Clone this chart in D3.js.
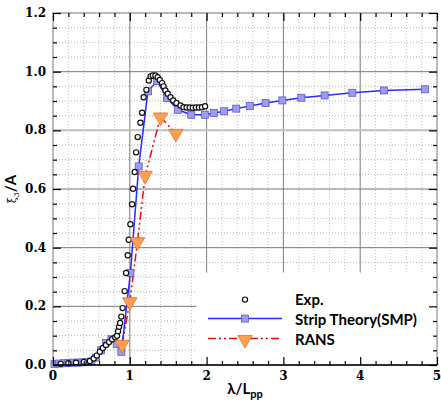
<!DOCTYPE html>
<html>
<head>
<meta charset="utf-8">
<script src="https://cdn.jsdelivr.net/npm/d3@7"></script>
<style>
  body { margin: 0; background: #fff; }
  .tick-label { font-family: "DejaVu Serif", serif; font-weight: bold; font-size: 12px; }
  .legend-text { font-family: Lato, "Open Sans", sans-serif; font-weight: bold; font-size: 15px; }
</style>
</head>
<body>
<div id="chart"></div>
<script>
// data
var expLambda = [0.10, 0.20, 0.30, 0.40, 0.48, 0.53, 0.57, 0.61, 0.65, 0.69, 0.73, 0.77, 0.81, 0.834, 0.847, 0.86, 0.874, 0.89, 0.907, 0.933, 0.952, 0.973, 0.986, 1.008, 1.03, 1.043, 1.064, 1.082, 1.103, 1.138, 1.16, 1.18, 1.216, 1.247, 1.27, 1.30, 1.334, 1.364, 1.39, 1.42, 1.44, 1.464, 1.494, 1.53, 1.565, 1.607, 1.66, 1.70, 1.74, 1.78, 1.82, 1.86, 1.90, 1.94, 1.98];
var expValue  = [0.004, 0.006, 0.008, 0.010, 0.014, 0.022, 0.032, 0.045, 0.058, 0.068, 0.078, 0.088, 0.095, 0.100, 0.115, 0.130, 0.143, 0.165, 0.194, 0.252, 0.314, 0.374, 0.427, 0.480, 0.548, 0.601, 0.658, 0.725, 0.777, 0.826, 0.860, 0.913, 0.938, 0.970, 0.984, 0.987, 0.987, 0.981, 0.972, 0.961, 0.950, 0.936, 0.925, 0.913, 0.902, 0.893, 0.885, 0.879, 0.878, 0.878, 0.877, 0.878, 0.878, 0.879, 0.882];

var stripLambda = [0.02, 0.08, 0.14, 0.20, 0.26, 0.32, 0.38, 0.44, 0.50, 0.56, 0.625, 0.69, 0.76, 0.83, 0.89, 1.008, 1.116, 1.236, 1.356, 1.486, 1.625, 1.80, 1.977, 2.094, 2.228, 2.386, 2.563, 2.768, 2.986, 3.233, 3.537, 3.898, 4.31, 4.845];
var stripValue  = [0.004, 0.005, 0.006, 0.007, 0.008, 0.008, 0.009, 0.010, 0.012, 0.025, 0.050, 0.075, 0.088, 0.072, 0.045, 0.314, 0.677, 0.933, 0.968, 0.910, 0.870, 0.853, 0.853, 0.859, 0.865, 0.874, 0.883, 0.893, 0.902, 0.911, 0.919, 0.928, 0.936, 0.940];

var ransLambda = [0.90, 1.00, 1.10, 1.20, 1.40, 1.60];
var ransValue  = [0.070, 0.215, 0.420, 0.646, 0.845, 0.789];

var xTicks = [0, 1, 2, 3, 4, 5];
var yTicks = [0.0, 0.2, 0.4, 0.6, 0.8, 1.0, 1.2];
var legendNames = ["Exp.", "Strip Theory(SMP)", "RANS"];

// set the dimensions and margins of the graph
var margin = {top: 13, right: 4, bottom: 40, left: 53},
    width = 441 - margin.left - margin.right,
    height = 405 - margin.top - margin.bottom;

var svG = d3.select("#chart")
  .append("svg")
    .attr("width", 441)
    .attr("height", 405)
  .append("g")
    .attr("transform", "translate(" + margin.left + "," + margin.top + ")");

var x = d3.scaleLinear().domain([0, 5]).range([0, width]);
var y = d3.scaleLinear().domain([0, 1.2]).range([height, 0]);

var expData = expLambda.map(function(l, i){ return {x: l, y: expValue[i]}; });
var stripData = stripLambda.map(function(l, i){ return {x: l, y: stripValue[i]}; });
var ransData = ransLambda.map(function(l, i){ return {x: l, y: ransValue[i]}; });

// minor dotted grid
var xMinor = d3.range(0, 5.0001, 0.2);
var yMinor = d3.range(0, 1.2001, 0.05);
svG.append("g").selectAll("line")
  .data(xMinor)
  .enter().append("line")
    .attr("x1", d => x(d)).attr("x2", d => x(d))
    .attr("y1", 0).attr("y2", height)
    .attr("stroke", "#c4c4c4")
    .attr("stroke-dasharray", "1,2");
svG.append("g").selectAll("line")
  .data(yMinor)
  .enter().append("line")
    .attr("y1", d => y(d)).attr("y2", d => y(d))
    .attr("x1", 0).attr("x2", width)
    .attr("stroke", "#b4b4b4")
    .attr("stroke-dasharray", "1,2");

// major grid
svG.append("g").selectAll("line")
  .data(xTicks.slice(1, -1))
  .enter().append("line")
    .attr("x1", d => x(d)).attr("x2", d => x(d))
    .attr("y1", 0).attr("y2", height)
    .attr("stroke", "#808080");
svG.append("g").selectAll("line")
  .data(yTicks.slice(1, -1))
  .enter().append("line")
    .attr("y1", d => y(d)).attr("y2", d => y(d))
    .attr("x1", 0).attr("x2", width)
    .attr("stroke", d => d === 0.8 ? "#c0c0c0" : "#808080")
    .attr("stroke-width", d => d === 0.8 ? 2 : 1);

// lines
var line = d3.line().x(d => x(d.x)).y(d => y(d.y));

svG.append("path")
  .datum(ransData)
  .attr("d", line)
  .attr("fill", "none")
  .attr("stroke", "#e01010")
  .attr("stroke-width", 1.5)
  .attr("stroke-dasharray", "8,3,2,3,2,3");

svG.append("path")
  .datum(stripData)
  .attr("d", line)
  .attr("fill", "none")
  .attr("stroke", "#2a2aff")
  .attr("stroke-width", 1.5);

// markers
svG.selectAll(".sq")
  .data(stripData)
  .enter().append("rect")
    .attr("class", "sq")
    .attr("x", d => x(d.x) - 3.5)
    .attr("y", d => y(d.y) - 3.5)
    .attr("width", 7).attr("height", 7)
    .attr("fill", "#9c9cf0")
    .attr("stroke", "#5a5ad0")
    .attr("stroke-width", 0.8);

svG.selectAll(".dot")
  .data(expData)
  .enter().append("circle")
    .attr("class", "dot")
    .attr("cx", d => x(d.x))
    .attr("cy", d => y(d.y))
    .attr("r", 2.6)
    .attr("fill", "#fff")
    .attr("stroke", "#111")
    .attr("stroke-width", 1.2);

var tri = d3.symbol().type(d3.symbolTriangle).size(90);
svG.selectAll(".tri")
  .data(ransData)
  .enter().append("path")
    .attr("class", "tri")
    .attr("d", tri)
    .attr("transform", d => "translate(" + x(d.x) + "," + y(d.y) + ") rotate(180)")
    .attr("fill", "#ffa050")
    .attr("stroke", "#e07020")
    .attr("stroke-width", 0.8);

// legend
var lg = svG.append("g").attr("transform", "translate(" + (x(1.87)) + "," + y(0.315) + ")");
lg.append("rect")
  .attr("x", 0).attr("y", 0)
  .attr("width", width - x(1.87)).attr("height", height - y(0.315))
  .attr("fill", "#fff");
var sx = x(2.5) - x(1.87);
lg.append("circle").attr("cx", sx).attr("cy", 27).attr("r", 2.6)
  .attr("fill", "#fff").attr("stroke", "#111").attr("stroke-width", 1.2);
lg.append("line").attr("x1", sx - 37).attr("x2", sx + 37).attr("y1", 46).attr("y2", 46)
  .attr("stroke", "#2a2aff").attr("stroke-width", 1.5);
lg.append("rect").attr("x", sx - 3.5).attr("y", 42.5).attr("width", 7).attr("height", 7)
  .attr("fill", "#9c9cf0").attr("stroke", "#5a5ad0").attr("stroke-width", 0.8);
lg.append("line").attr("x1", sx - 37).attr("x2", sx + 37).attr("y1", 66).attr("y2", 66)
  .attr("stroke", "#e01010").attr("stroke-width", 1.5).attr("stroke-dasharray", "8,3,2,3,2,3");
lg.append("path").attr("d", tri)
  .attr("transform", "translate(" + sx + ",67) rotate(180)")
  .attr("fill", "#ffa050").attr("stroke", "#e07020").attr("stroke-width", 0.8);
lg.selectAll(".legend-text")
  .data(legendNames)
  .enter().append("text")
    .attr("class", "legend-text")
    .attr("x", sx + 50)
    .attr("y", (d, i) => 32 + i * 20)
    .text(d => d);

// frame
svG.append("rect")
  .attr("width", width).attr("height", height)
  .attr("fill", "none").attr("stroke", "#808080");
svG.append("line").attr("x1", 0).attr("x2", width).attr("y1", height).attr("y2", height)
  .attr("stroke", "#000").attr("stroke-width", 1.5);

// ticks on all four sides (pointing inward)
var xMinorTicks = xMinor.filter(d => Math.abs(d - Math.round(d)) > 1e-6);
var yMinorTicks = yMinor.filter(d => Math.abs(d * 5 - Math.round(d * 5)) > 1e-6);

svG.append("g").attr("transform", "translate(0," + height + ")")
  .call(d3.axisBottom(x).tickValues(xTicks).tickSize(-8).tickFormat(""))
  .call(g => g.select(".domain").remove());
svG.append("g").attr("transform", "translate(0," + height + ")")
  .call(d3.axisBottom(x).tickValues(xMinorTicks).tickSize(-4).tickFormat(""))
  .call(g => g.select(".domain").remove());
svG.append("g")
  .call(d3.axisTop(x).tickValues(xTicks).tickSize(-8).tickFormat(""))
  .call(g => g.select(".domain").remove());
svG.append("g")
  .call(d3.axisTop(x).tickValues(xMinorTicks).tickSize(-4).tickFormat(""))
  .call(g => g.select(".domain").remove());
svG.append("g")
  .call(d3.axisLeft(y).tickValues(yTicks).tickSize(-8).tickFormat(""))
  .call(g => g.select(".domain").remove());
svG.append("g")
  .call(d3.axisLeft(y).tickValues(yMinorTicks).tickSize(-4).tickFormat(""))
  .call(g => g.select(".domain").remove());
svG.append("g").attr("transform", "translate(" + width + ",0)")
  .call(d3.axisRight(y).tickValues(yTicks).tickSize(-8).tickFormat(""))
  .call(g => g.select(".domain").remove());
svG.append("g").attr("transform", "translate(" + width + ",0)")
  .call(d3.axisRight(y).tickValues(yMinorTicks).tickSize(-4).tickFormat(""))
  .call(g => g.select(".domain").remove());

svG.selectAll(".tick line").attr("stroke", "#000").attr("stroke-width", 1.2);

// tick labels
svG.append("g").selectAll("text")
  .data(xTicks)
  .enter().append("text")
    .attr("class", "tick-label")
    .attr("x", d => x(d))
    .attr("y", height + 15)
    .attr("text-anchor", "middle")
    .text(d => d);
svG.append("g").selectAll("text")
  .data(yTicks)
  .enter().append("text")
    .attr("class", "tick-label")
    .attr("x", -7)
    .attr("y", d => y(d) + 4)
    .attr("text-anchor", "end")
    .text(d => d.toFixed(1));

// axis titles
var xt = svG.append("text")
  .attr("x", x(2.27))
  .attr("y", height + 29)
  .attr("font-family", "Lato, 'Open Sans', sans-serif")
  .attr("font-weight", "bold")
  .attr("font-size", 15);
xt.append("tspan").text("λ/L");
xt.append("tspan").attr("font-size", 11).attr("dy", 4).text("pp");

var yt = svG.append("text")
  .attr("transform", "translate(-37," + y(0.6) + ") rotate(-90)")
  .attr("text-anchor", "middle")
  .attr("font-weight", "bold");
yt.append("tspan").attr("font-family", "DejaVu Serif, serif").attr("font-size", 11).attr("font-weight", "normal").text("ξ");
yt.append("tspan").attr("font-family", "DejaVu Serif, serif").attr("font-size", 8).attr("font-weight", "normal").attr("dy", 3).text("3");
yt.append("tspan").attr("font-family", "Lato, 'Open Sans', sans-serif").attr("font-size", 15).attr("dy", -3).text("/A");
</script>
</body>
</html>
